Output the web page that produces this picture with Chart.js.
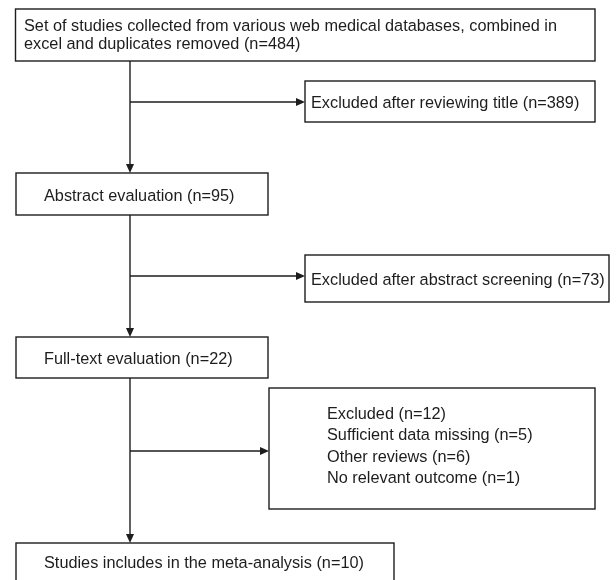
<!DOCTYPE html>
<html lang="en">
<head>
<meta charset="UTF-8" />
<title>Study selection flow</title>
<script src="https://cdn.jsdelivr.net/npm/chart.js"></script>
<style>
  body { margin: 0; background: #fff; }
</style>
</head>
<body>
<canvas id="chart" width="616" height="580"></canvas>
<script>
// main stages of the selection, top to bottom
const stages = [
    "Set of studies collected from various web medical databases, combined in\nexcel and duplicates removed",
    "Abstract evaluation",
    "Full-text evaluation",
    "Studies includes in the meta-analysis",
];
const stageCounts = [484, 95, 22, 10];

// side boxes (what was dropped after each stage)
const exclusions = ["Excluded after reviewing title", "Excluded after abstract screening", "Excluded"];
const exclusionCounts = [389, 73, 12];

// reasons listed in the last side box
const reasons = ["Sufficient data missing", "Other reviews", "No relevant outcome"];
const reasonCounts = [5, 6, 1];

// layout, in axis units (axes run 0..616 and 0..580)
const stageBoxes = [[15.5, 9, 595, 61], [16, 173, 268, 215], [16, 337, 268, 378], [16, 543, 394, 584]];
const exclBoxes = [[305, 81, 595, 122], [305, 255, 609, 302], [269, 388, 595, 509]];
const trunkX = 130;
const branchY = [102, 276, 451];

const FONT = "16.3px 'Liberation Sans', Arial, sans-serif";
const INK = "#1d1d1d";
const TY = 1.5; // small nudge so glyphs sit where the reference has them

const n = (v) => "(n=" + v + ")";

const flowPlugin = {
    id: "flow",
    afterDraw(chart) {
        const ctx = chart.ctx;
        const sx = chart.scales.x, sy = chart.scales.y;
        const X = (v) => sx.getPixelForValue(v);
        const Y = (v) => sy.getPixelForValue(v);

        ctx.save();
        ctx.strokeStyle = INK;
        ctx.fillStyle = INK;
        ctx.lineWidth = 1.4;
        ctx.font = FONT;
        ctx.textBaseline = "middle";
        ctx.textAlign = "left";

        function box(b) {
            ctx.strokeRect(X(b[0]), Y(b[1]), X(b[2]) - X(b[0]), Y(b[3]) - Y(b[1]));
        }
        function arrowDown(x, y0, y1) {
            ctx.beginPath();
            ctx.moveTo(X(x), Y(y0));
            ctx.lineTo(X(x), Y(y1) - 6);
            ctx.stroke();
            ctx.beginPath();
            ctx.moveTo(X(x) - 4, Y(y1) - 9);
            ctx.lineTo(X(x) + 4, Y(y1) - 9);
            ctx.lineTo(X(x), Y(y1));
            ctx.closePath();
            ctx.fill();
        }
        function arrowRight(x0, x1, y) {
            ctx.beginPath();
            ctx.moveTo(X(x0), Y(y));
            ctx.lineTo(X(x1) - 6, Y(y));
            ctx.stroke();
            ctx.beginPath();
            ctx.moveTo(X(x1) - 9, Y(y) - 4);
            ctx.lineTo(X(x1) - 9, Y(y) + 4);
            ctx.lineTo(X(x1), Y(y));
            ctx.closePath();
            ctx.fill();
        }

        // stage boxes and trunk arrows
        stages.forEach((label, i) => {
            const b = stageBoxes[i];
            box(b);
            const lines = (label + " " + n(stageCounts[i])).split("\n");
            if (i === 0) {
                lines.forEach((t, k) => ctx.fillText(t, X(24), Y(25 + TY + k * 18)));
            } else {
                const mid = i === 3 ? 562 : (b[1] + b[3]) / 2 + 1;
                ctx.fillText(lines[0], X(44), Y(mid + TY));
            }
            if (i < stages.length - 1) {
                arrowDown(trunkX, b[3], stageBoxes[i + 1][1]);
            }
        });

        // side boxes
        exclusions.forEach((label, i) => {
            const b = exclBoxes[i];
            box(b);
            arrowRight(trunkX, b[0], branchY[i]);
            if (i < 2) {
                ctx.fillText(label + " " + n(exclusionCounts[i]), X(b[0] + 6), Y((b[1] + b[3]) / 2 + 1 + TY));
            } else {
                const lines = [label + " " + n(exclusionCounts[i])].concat(
                    reasons.map((r, k) => r + " " + n(reasonCounts[k]))
                );
                lines.forEach((t, k) => ctx.fillText(t, X(327), Y(413 + TY + k * 21.4)));
            }
        });
        ctx.restore();
    },
};

new Chart(document.getElementById("chart"), {
    type: "scatter",
    data: {
        datasets: [
            {
                label: "stages",
                data: stageBoxes.map((b, i) => ({ x: (b[0] + b[2]) / 2, y: (b[1] + b[3]) / 2, v: stageCounts[i] })),
                pointRadius: 0,
            },
        ],
    },
    options: {
        responsive: false,
        animation: false,
        events: [],
        layout: { padding: 0 },
        plugins: { legend: { display: false }, tooltip: { enabled: false } },
        scales: {
            x: { type: "linear", min: 0, max: 616, display: false },
            y: { type: "linear", min: 0, max: 580, reverse: true, display: false },
        },
    },
    plugins: [flowPlugin],
});
</script>
</body>
</html>
